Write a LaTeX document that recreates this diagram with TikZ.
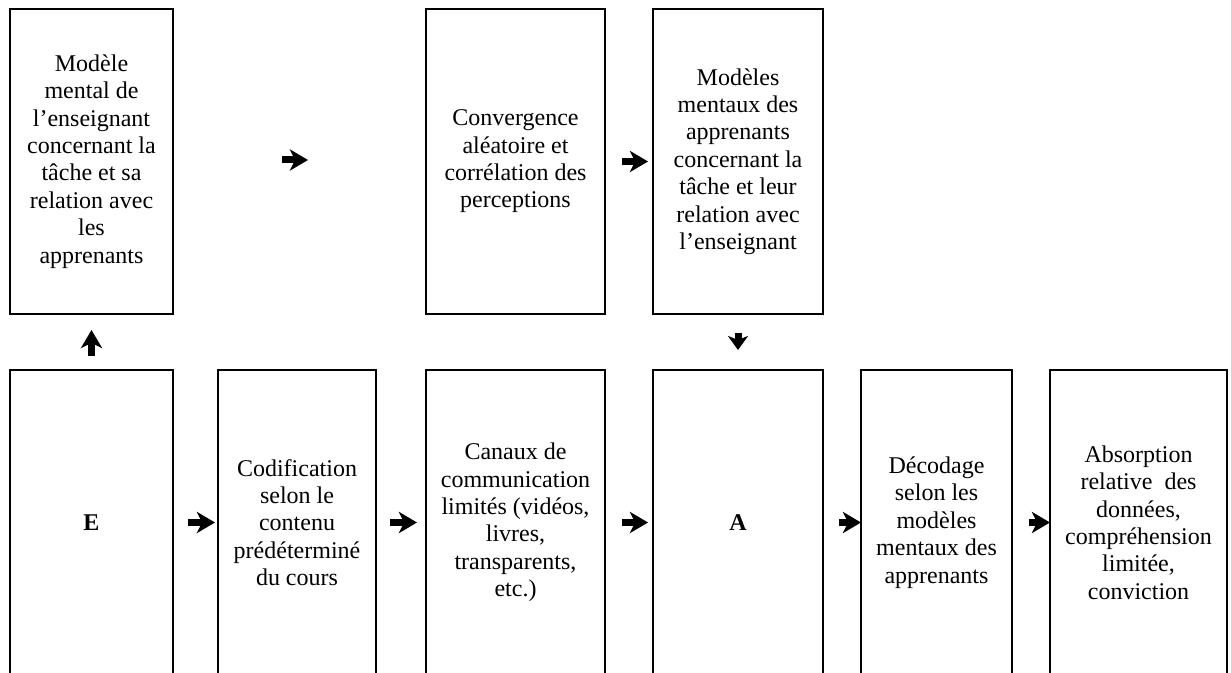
\documentclass[tikz,border=0pt]{standalone}
\usepackage{fontspec}
\setmainfont{Liberation Serif}
\usetikzlibrary{arrows.meta}
\tikzset{
  box/.style={draw, line width=1pt, inner sep=0pt, outer sep=0pt, align=center,
    minimum height=152.5pt, font=\fontsize{12}{13.7}\selectfont},
  flow/.style={line width=3.5pt, -{Stealth[length=9pt,width=10.5pt,inset=2.5pt]}},
  flowshort/.style={line width=3.5pt, -{Stealth[length=7pt,width=10pt,inset=2pt]}}
}
\begin{document}
\begin{tikzpicture}[x=0.5pt,y=-0.5pt]
                \useasboundingbox (0,0) rectangle (1231,673);
                \node[box, minimum width=81.5pt] (modele) at (91.5,161.5) {Modèle\\mental de\\l’enseignant\\concernant la\\tâche et sa\\relation avec\\les\\apprenants};
                \node[box, minimum width=89.5pt] (convergence) at (515.5,161.5) {Convergence\\aléatoire et\\corrélation des\\perceptions};
                \node[box, minimum width=85pt] (mentaux) at (738,161.5) {Modèles\\mentaux des\\apprenants\\concernant la\\tâche et leur\\relation avec\\l’enseignant};

                \node[box, minimum width=81.5pt] (E) at (91.5,522.5) {\textbf{E}};
                \node[box, minimum width=79pt] (codif) at (297,522.5) {Codification\\selon le\\contenu\\prédéterminé\\du cours};
                \node[box, minimum width=89.5pt] (canaux) at (515.5,522.5) {Canaux de\\communication\\limités (vidéos,\\livres,\\transparents,\\etc.)};
                \node[box, minimum width=85pt] (A) at (738,522.5) {\textbf{A}};
                \node[box, minimum width=75.5pt] (decod) at (936.5,522.5) {Décodage\\selon les\\modèles\\mentaux des\\apprenants};
                \node[box, minimum width=88.5pt] (absorb) at (1138.5,522.5) {Absorption\\relative\ \ des\\données,\\compréhension\\limitée,\\conviction};

                \coordinate (T1s) at (282,160); \coordinate (T1e) at (308,160);
                \coordinate (T2s) at (622,161.5);
                \coordinate (Up) at (91.5,356); \coordinate (Down) at (738,333);
                \coordinate (B1s) at (188,522.5); \coordinate (B2s) at (390,522.5); \coordinate (B3s) at (622,522.5);
                \coordinate (B4s) at (839,522.5); \coordinate (B5s) at (1029,522.5);

                \draw[flow] (T1s) to (T1e); \draw[flow, shorten >=2.5pt] (T2s) to (mentaux.west);
                \draw[flow, shorten >=8pt] (Up) to (modele.south); \draw[flowshort, shorten >=10pt] (Down) to (A.north);
                \draw[flow, shorten >=1.5pt] (B1s) to (codif.west); \draw[flow, shorten >=4.5pt] (B2s) to (canaux.west);
                \draw[flow, shorten >=2.5pt] (B3s) to (A.west); \draw[flow] (B4s) to (decod.west); \draw[flow] (B5s) to (absorb.west);
            \end{tikzpicture}
\end{document}
